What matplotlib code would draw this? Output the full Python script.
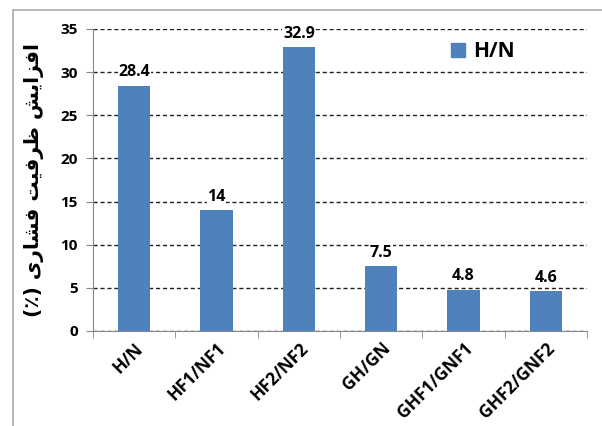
import matplotlib
matplotlib.use("Agg")
import matplotlib.pyplot as plt
from matplotlib.patches import Rectangle
from matplotlib.lines import Line2D

categories = ["H/N", "HF1/NF1", "HF2/NF2", "GH/GN", "GHF1/GNF1", "GHF2/GNF2"]
values = [28.4, 14, 32.9, 7.5, 4.8, 4.6]
value_labels = ["28.4", "14", "32.9", "7.5", "4.8", "4.6"]
series_name = "H/N"
yticks = [0, 5, 10, 15, 20, 25, 30, 35]

# Persian label "افزایش ظرفیت فشاری (٪)" pre-shaped into presentation forms, visual order
w1 = "\uFE8D\uFED3\uFEB0\uFE8D\uFBFE\uFEB6"   # افزایش
w2 = "\uFEC7\uFEAE\uFED3\uFBFF\uFE96"         # ظرفیت
w3 = "\uFED3\uFEB8\uFE8E\uFEAD\uFBFC"         # فشاری
ylabel = "(\u066A) " + w3[::-1] + " " + w2[::-1] + " " + w1[::-1]

color = "#4F81BD"
fam = ["Open Sans", "DejaVu Sans"]

fig = plt.figure(figsize=(6.02, 4.26), dpi=100)
ax = fig.add_axes([93/602, 1-331/426, (587-93)/602, (331-29)/426])

x = list(range(len(categories)))
ax.bar(x, values, width=0.39, color=color, zorder=3)
ax.set_xlim(-0.5, len(categories)-0.5)
ax.set_ylim(0, 35)
ax.set_yticks(yticks)
ax.set_yticklabels([str(t) for t in yticks], fontsize=11, fontweight="bold", family=fam)
ax.set_xticks(x)
ax.set_xticklabels(categories, rotation=45, ha="right", rotation_mode="anchor",
                   fontsize=12.5, fontweight="bold", family=fam)
ax.tick_params(axis="x", length=0, pad=6)
ax.set_xticks([i - 0.5 for i in range(len(categories)+1)], minor=True)
ax.tick_params(axis="x", which="minor", length=5, color="#888888", direction="out")
ax.tick_params(axis="y", length=5, color="#888888", pad=6)

for s in ["top", "right"]:
    ax.spines[s].set_visible(False)
for s in ["left", "bottom"]:
    ax.spines[s].set_color("#888888")

ax.yaxis.grid(True, linestyle=(0, (3, 2)), color="#222222", linewidth=1.0, zorder=0)
ax.set_axisbelow(True)

for xi, v, lab in zip(x, values, value_labels):
    ax.annotate(lab, (xi, v), xytext=(0, 4), textcoords="offset points",
                ha="center", va="bottom", fontsize=11.5, fontweight="bold", family=fam,
                bbox=dict(facecolor="white", edgecolor="none", pad=0.5), zorder=4)

ax.set_ylabel(ylabel, fontsize=14.5, fontweight="bold", family=["DejaVu Sans"], labelpad=12)

h = Line2D([], [], marker="s", linestyle="none", markersize=10, color=color)
leg = ax.legend([h], [series_name], loc="center left", bbox_to_anchor=(0.68, 0.925),
                frameon=False,
                prop={"family": fam, "weight": "bold", "size": 15},
                handletextpad=0.1, borderpad=0.3, handlelength=1.2)

fig.patches.append(Rectangle((13/602, -0.1), 1.2, 1.1 - 10/426,
                             transform=fig.transFigure, fill=False,
                             edgecolor="#AAAAAA", linewidth=1.2))

fig.savefig("out.png", dpi=100)
